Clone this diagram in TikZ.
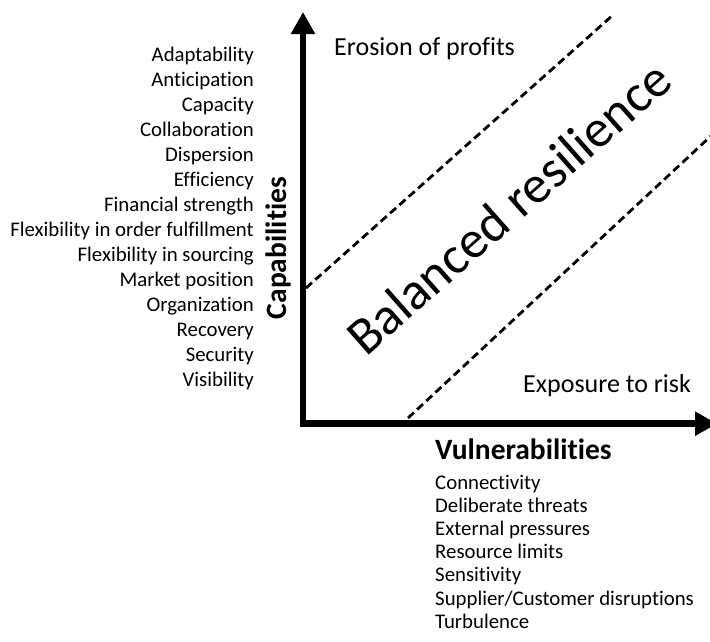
\documentclass[tikz,border=0pt]{standalone}
\usepackage{fontspec}
\setmainfont{Carlito}[Ligatures=NoCommon]
\usetikzlibrary{arrows.meta}
\begin{document}
\begin{tikzpicture}[x=1pt,y=-1pt,
  axis/.style={line width=6.5pt, line join=miter,
    {Triangle[width=23pt,length=22pt]}-{Triangle[width=23pt,length=22pt]}},
  zoneline/.style={line width=2.8pt, dash pattern=on 8pt off 4.5pt},
  listitem/.style={inner sep=0pt, font=\fontsize{20.8}{24}\selectfont},
  axistitle/.style={inner sep=0pt, font=\fontsize{29.5}{34}\selectfont\bfseries},
  cornerlabel/.style={inner sep=0pt, font=\fontsize{26}{30}\selectfont},
  zonelabel/.style={inner sep=0pt, font=\fontsize{53}{62}\selectfont}]
\useasboundingbox (0,0) rectangle (710,641);

% axes
\coordinate (ytip) at (303,12);
\coordinate (origin) at (303,423.7);
\coordinate (xtip) at (717,423.7);
\draw[axis] (ytip) -- (origin) -- (xtip);

% boundaries of the balanced zone
\coordinate (upA) at (306,288);
\coordinate (upB) at (613,15);
\coordinate (loA) at (408,418);
\coordinate (loB) at (712,135);
\draw[zoneline] (upA) -- (upB);
\draw[zoneline] (loA) -- (loB);

% capabilities
\node[axistitle, rotate=90, anchor=base] (captitle) at (286,248) {Capabilities};
\foreach \t [count=\i] in {Adaptability, Anticipation, Capacity, Collaboration,
  Dispersion, Efficiency, Financial strength, Flexibility in order fulfillment,
  Flexibility in sourcing, Market position, Organization, Recovery, Security, Visibility}
  \node[listitem, anchor=base east] (cap\i) at (254,{61+25.05*(\i-1)}) {\t};

% vulnerabilities
\node[axistitle, anchor=base west] (vultitle) at (435,459) {Vulnerabilities};
\foreach \t [count=\i] in {Connectivity, Deliberate threats, External pressures,
  Resource limits, Sensitivity, Supplier/Customer disruptions, Turbulence}
  \node[listitem, anchor=base west] (vul\i) at (435,{489+23.2*(\i-1)}) {\t};

% zone labels
\node[cornerlabel, anchor=base west] (erosion) at (334,55) {Erosion of profits};
\node[cornerlabel, anchor=base west] (exposure) at (523,392) {Exposure to risk};
\node[zonelabel, rotate=41.5, anchor=base west] (balanced) at (366,358) {Balanced resilience};
\end{tikzpicture}
\end{document}
